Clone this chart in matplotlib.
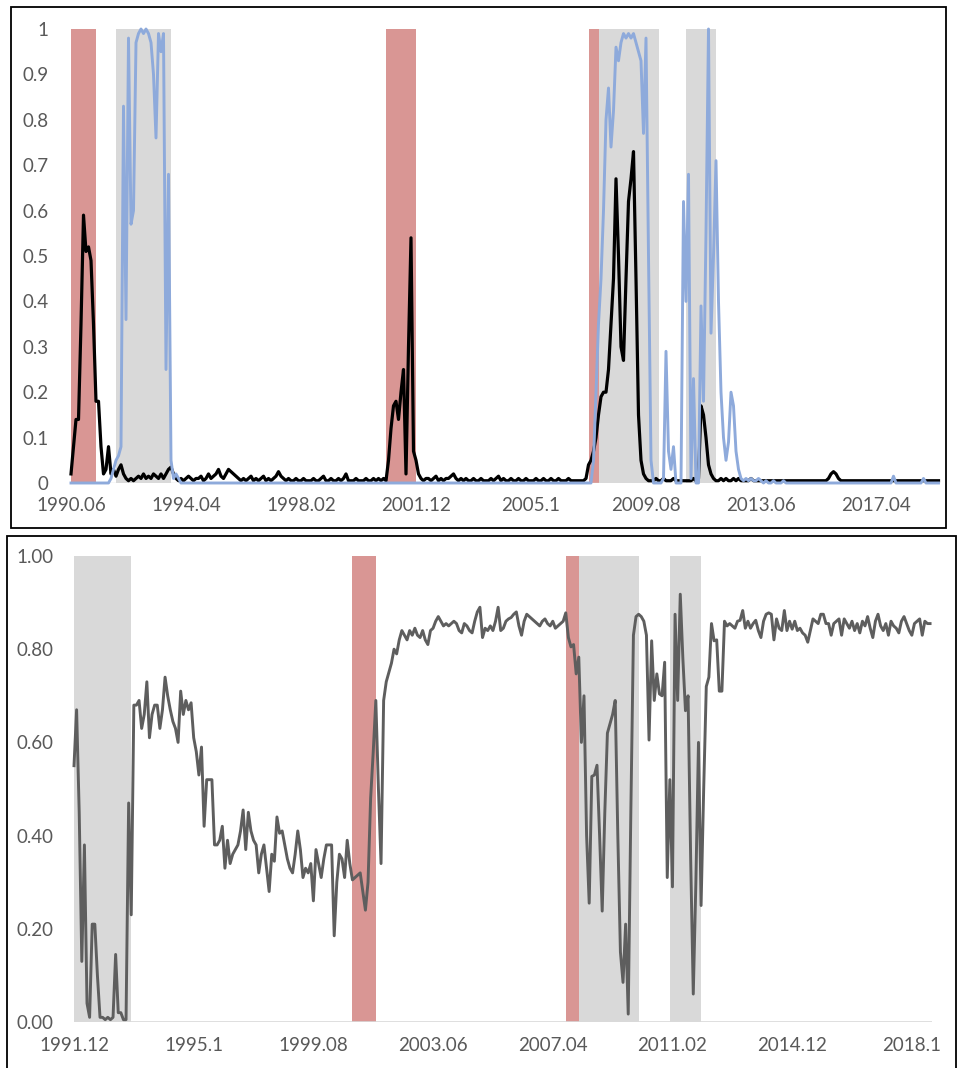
import matplotlib
matplotlib.use("Agg")
import matplotlib.pyplot as plt
from matplotlib.patches import Rectangle
import numpy as np

# ---------------- data ----------------
top_start = (1990, 6)
top_xticklabels = ["1990.06", "1994.04", "1998.02", "2001.12", "2005.1", "2009.08", "2013.06", "2017.04"]
top_yticklabels = ["0", "0.1", "0.2", "0.3", "0.4", "0.5", "0.6", "0.7", "0.8", "0.9", "1"]

top_black = [
    0.02, 0.08, 0.14, 0.14, 0.35, 0.59, 0.51, 0.52, 0.49, 0.35, 0.18, 0.18,
    0.08, 0.02, 0.03, 0.08, 0.02, 0.03, 0.015, 0.03, 0.04, 0.02, 0.01, 0.005,
    0.01, 0.005, 0.01, 0.015, 0.01, 0.02, 0.01, 0.015, 0.01, 0.02, 0.015, 0.01,
    0.02, 0.01, 0.02, 0.03, 0.035, 0.02, 0.01, 0.005, 0.01, 0.005, 0.01, 0.015,
    0.01, 0.005, 0.01, 0.01, 0.015, 0.005, 0.01, 0.02, 0.01, 0.015, 0.02, 0.03,
    0.015, 0.01, 0.02, 0.03, 0.025, 0.02, 0.015, 0.01, 0.005, 0.01, 0.005, 0.01,
    0.015, 0.005, 0.01, 0.005, 0.01, 0.015, 0.005, 0.01, 0.005, 0.01, 0.015, 0.025,
    0.015, 0.01, 0.005, 0.01, 0.005, 0.005, 0.01, 0.005, 0.005, 0.01, 0.005, 0.005,
    0.005, 0.01, 0.005, 0.005, 0.01, 0.015, 0.005, 0.005, 0.01, 0.005, 0.005, 0.01,
    0.005, 0.01, 0.02, 0.005, 0.005, 0.005, 0.01, 0.005, 0.005, 0.005, 0.01, 0.005,
    0.005, 0.01, 0.005, 0.01, 0.005, 0.01, 0.005, 0.05, 0.12, 0.17, 0.18, 0.14,
    0.2, 0.25, 0.02, 0.3, 0.54, 0.07, 0.05, 0.02, 0.01, 0.005, 0.01, 0.01,
    0.005, 0.01, 0.015, 0.005, 0.01, 0.005, 0.01, 0.01, 0.015, 0.02, 0.01, 0.005,
    0.01, 0.005, 0.01, 0.005, 0.005, 0.01, 0.005, 0.005, 0.01, 0.005, 0.005, 0.005,
    0.01, 0.005, 0.01, 0.015, 0.005, 0.01, 0.005, 0.005, 0.01, 0.005, 0.005, 0.01,
    0.005, 0.005, 0.01, 0.005, 0.005, 0.005, 0.01, 0.005, 0.005, 0.01, 0.005, 0.005,
    0.01, 0.005, 0.005, 0.01, 0.005, 0.005, 0.005, 0.01, 0.005, 0.005, 0.005, 0.005,
    0.005, 0.005, 0.01, 0.04, 0.05, 0.07, 0.1, 0.15, 0.19, 0.2, 0.2, 0.25,
    0.35, 0.45, 0.67, 0.5, 0.3, 0.27, 0.45, 0.62, 0.67, 0.73, 0.45, 0.15,
    0.05, 0.02, 0.01, 0.005, 0.005, 0.005, 0.01, 0.005, 0.005, 0.01, 0.005, 0.005,
    0.005, 0.01, 0.005, 0.005, 0.005, 0.005, 0.005, 0.005, 0.005, 0.01, 0.005, 0.01,
    0.17, 0.15, 0.1, 0.04, 0.02, 0.01, 0.005, 0.005, 0.01, 0.005, 0.01, 0.005,
    0.005, 0.01, 0.005, 0.01, 0.005, 0.005, 0.005, 0.005, 0.01, 0.005, 0.005, 0.005,
    0.005, 0.005, 0.005, 0.005, 0.005, 0.005, 0.005, 0.005, 0.005, 0.005, 0.005, 0.005,
    0.005, 0.005, 0.005, 0.005, 0.005, 0.005, 0.005, 0.005, 0.005, 0.005, 0.005, 0.005,
    0.005, 0.005, 0.005, 0.01, 0.02, 0.025, 0.02, 0.01, 0.005, 0.005, 0.005, 0.005,
    0.005, 0.005, 0.005, 0.005, 0.005, 0.005, 0.005, 0.005, 0.005, 0.005, 0.005, 0.005,
    0.005, 0.005, 0.005, 0.005, 0.005, 0.005, 0.005, 0.005, 0.005, 0.005, 0.005, 0.005,
    0.005, 0.005, 0.005, 0.005, 0.005, 0.005, 0.005, 0.005, 0.005, 0.005, 0.005, 0.005,
]

top_blue = [
    0, 0, 0, 0, 0, 0, 0, 0, 0, 0, 0, 0,
    0, 0, 0, 0, 0.01, 0.03, 0.05, 0.06, 0.08, 0.83, 0.36, 0.98,
    0.57, 0.6, 0.97, 0.99, 1.0, 0.99, 1.0, 0.99, 0.97, 0.9, 0.76, 0.99,
    0.95, 0.99, 0.25, 0.68, 0.05, 0.01, 0.02, 0.01, 0, 0, 0, 0,
    0, 0, 0, 0, 0, 0, 0, 0, 0, 0, 0, 0,
    0, 0, 0, 0, 0, 0, 0, 0, 0, 0, 0, 0,
    0, 0, 0, 0, 0, 0, 0, 0, 0, 0, 0, 0,
    0, 0, 0, 0, 0, 0, 0, 0, 0, 0, 0, 0,
    0, 0, 0, 0, 0, 0, 0, 0, 0, 0, 0, 0,
    0, 0, 0, 0, 0, 0, 0, 0, 0, 0, 0, 0,
    0, 0, 0, 0, 0, 0, 0, 0, 0, 0, 0, 0,
    0, 0, 0, 0, 0, 0, 0, 0, 0, 0, 0, 0,
    0, 0, 0, 0, 0, 0, 0, 0, 0, 0, 0, 0,
    0, 0, 0, 0, 0, 0, 0, 0, 0, 0, 0, 0,
    0, 0, 0, 0, 0, 0, 0, 0, 0, 0, 0, 0,
    0, 0, 0, 0, 0, 0, 0, 0, 0, 0, 0, 0,
    0, 0, 0, 0, 0, 0, 0, 0, 0, 0, 0, 0,
    0, 0, 0, 0, 0, 0.05, 0.2, 0.35, 0.45, 0.6, 0.8, 0.87,
    0.74, 0.82, 0.96, 0.93, 0.97, 0.99, 0.98, 0.99, 0.98, 0.99, 0.97, 0.95,
    0.93, 0.77, 0.98, 0.5, 0.05, 0, 0, 0, 0, 0.01, 0.29, 0.07,
    0.03, 0.08, 0, 0, 0, 0.62, 0.4, 0.68, 0.01, 0.23, 0, 0,
    0.39, 0.18, 0.55, 1.0, 0.33, 0.5, 0.71, 0.4, 0.2, 0.1, 0.05, 0.09,
    0.2, 0.17, 0.07, 0.03, 0.01, 0.005, 0.01, 0.005, 0.01, 0.005, 0.005, 0.01,
    0.005, 0, 0.005, 0, 0, 0.005, 0, 0, 0, 0.005, 0, 0,
    0, 0, 0, 0, 0, 0, 0, 0, 0, 0, 0, 0,
    0, 0, 0, 0, 0, 0, 0, 0, 0, 0, 0, 0,
    0, 0, 0, 0, 0, 0, 0, 0, 0, 0, 0, 0,
    0, 0, 0, 0, 0, 0.015, 0, 0, 0, 0, 0, 0,
    0, 0, 0, 0, 0, 0.01, 0, 0, 0, 0, 0, 0,
]

top_red_periods = [("1990.06", "1991.04"), ("2000.12", "2001.12"), ("2007.09", "2008.01")]
top_gray_periods = [("1991.12", "1993.10"), ("2008.01", "2010.01"), ("2010.12", "2011.12")]

bot_start = (1991, 12)
bot_xticklabels = ["1991.12", "1995.1", "1999.08", "2003.06", "2007.04", "2011.02", "2014.12", "2018.1"]
bot_yticklabels = ["0.00", "0.20", "0.40", "0.60", "0.80", "1.00"]

bot_gray = [
    0.55, 0.67, 0.45, 0.13, 0.38, 0.04, 0.01, 0.21, 0.21, 0.1, 0.01, 0.01,
    0.005, 0.01, 0.005, 0.01, 0.145, 0.02, 0.02, 0.005, 0.005, 0.47, 0.23, 0.68,
    0.68, 0.69, 0.63, 0.66, 0.73, 0.61, 0.66, 0.68, 0.68, 0.63, 0.67, 0.74,
    0.7, 0.67, 0.645, 0.63, 0.6, 0.71, 0.66, 0.69, 0.67, 0.685, 0.61, 0.58,
    0.53, 0.59, 0.42, 0.52, 0.52, 0.52, 0.38, 0.38, 0.39, 0.42, 0.33, 0.39,
    0.34, 0.36, 0.37, 0.38, 0.41, 0.455, 0.37, 0.45, 0.41, 0.39, 0.38, 0.32,
    0.36, 0.38, 0.33, 0.28, 0.36, 0.345, 0.44, 0.405, 0.41, 0.38, 0.35, 0.33,
    0.32, 0.36, 0.41, 0.37, 0.31, 0.33, 0.32, 0.34, 0.26, 0.37, 0.34, 0.31,
    0.35, 0.38, 0.38, 0.38, 0.185, 0.3, 0.36, 0.35, 0.31, 0.39, 0.34, 0.305,
    0.31, 0.315, 0.32, 0.28, 0.24, 0.3, 0.48, 0.58, 0.69, 0.5, 0.34, 0.69,
    0.73, 0.75, 0.77, 0.8, 0.79, 0.82, 0.84, 0.83, 0.82, 0.84, 0.83, 0.845,
    0.83, 0.825, 0.84, 0.82, 0.81, 0.84, 0.845, 0.86, 0.87, 0.86, 0.85, 0.855,
    0.85, 0.855, 0.86, 0.855, 0.84, 0.835, 0.855, 0.85, 0.84, 0.835, 0.86, 0.88,
    0.89, 0.825, 0.845, 0.84, 0.85, 0.84, 0.86, 0.89, 0.84, 0.845, 0.86, 0.865,
    0.868, 0.875, 0.88, 0.85, 0.83, 0.86, 0.875, 0.87, 0.865, 0.86, 0.855, 0.85,
    0.86, 0.865, 0.855, 0.85, 0.86, 0.845, 0.85, 0.855, 0.86, 0.878, 0.825, 0.805,
    0.81, 0.747, 0.783, 0.6, 0.7, 0.4, 0.255, 0.527, 0.53, 0.551, 0.4, 0.238,
    0.45, 0.62, 0.64, 0.66, 0.69, 0.4, 0.15, 0.085, 0.21, 0.017, 0.45, 0.83,
    0.87, 0.875, 0.87, 0.86, 0.83, 0.605, 0.818, 0.69, 0.747, 0.704, 0.7, 0.772,
    0.31, 0.52, 0.29, 0.875, 0.69, 0.918, 0.78, 0.668, 0.7, 0.35, 0.06, 0.3,
    0.6, 0.25, 0.5, 0.72, 0.74, 0.855, 0.818, 0.82, 0.71, 0.71, 0.86, 0.85,
    0.855, 0.85, 0.845, 0.86, 0.862, 0.883, 0.845, 0.86, 0.845, 0.855, 0.862, 0.84,
    0.825, 0.86, 0.875, 0.878, 0.875, 0.82, 0.865, 0.845, 0.84, 0.883, 0.84, 0.86,
    0.843, 0.86, 0.84, 0.845, 0.835, 0.83, 0.815, 0.84, 0.865, 0.86, 0.855, 0.875,
    0.875, 0.855, 0.855, 0.83, 0.855, 0.86, 0.865, 0.83, 0.865, 0.855, 0.845, 0.86,
    0.84, 0.855, 0.835, 0.86, 0.85, 0.87, 0.845, 0.825, 0.86, 0.875, 0.85, 0.84,
    0.855, 0.83, 0.86, 0.85, 0.845, 0.835, 0.86, 0.87, 0.855, 0.84, 0.83, 0.855,
    0.86, 0.865, 0.83, 0.86, 0.855, 0.855,
]

bot_red_periods = [("2000.11", "2001.08"), ("2007.09", "2008.02")]
bot_gray_periods = [("1991.12", "1993.10"), ("2008.02", "2010.01"), ("2011.01", "2012.01")]

# ---------------- style ----------------
RED = "#D99694"
GRAYBAND = "#D9D9D9"
BLUE = "#8EAADB"
LINEGRAY = "#5E5E5E"
TXT = "#595959"
FONT = ["Lato", "DejaVu Sans"]
plt.rcParams["font.family"] = FONT

W, H = 957, 1068
fig = plt.figure(figsize=(W / 100, H / 100), dpi=100)
fig.patch.set_facecolor("white")


def px_axes(l, t, r, b):
    return fig.add_axes([l / W, 1 - b / H, (r - l) / W, (b - t) / H])


def month_index(label, start):
    y, m = label.split(".")
    return (int(y) - start[0]) * 12 + (int(m) - start[1])


def style(ax, xticks, xlabels, yticks, ylabels, ypad, xpad):
    for s in ax.spines.values():
        s.set_visible(False)
    ax.set_xticks(xticks)
    ax.set_xticklabels(xlabels)
    ax.set_yticks(yticks)
    ax.set_yticklabels(ylabels)
    ax.tick_params(axis="both", length=0, labelsize=13.5, labelcolor=TXT)
    ax.tick_params(axis="y", pad=ypad)
    ax.tick_params(axis="x", pad=xpad)
    ax.set_facecolor("none")


# ---------------- top panel ----------------
ax1 = px_axes(62, 29, 944, 483)
n1 = len(top_black)
x1 = np.arange(n1)
ax1.set_xlim((62 - 71) / 2.5, (944 - 71) / 2.5)
ax1.set_ylim(0, 1)
for a, b in top_red_periods:
    ax1.axvspan(month_index(a, top_start), month_index(b, top_start), color=RED, lw=0, zorder=1)
for a, b in top_gray_periods:
    ax1.axvspan(month_index(a, top_start), month_index(b, top_start), color=GRAYBAND, lw=0, zorder=1)
ax1.hlines(0, 0, n1 - 1, color=GRAYBAND, lw=1, zorder=2)
ax1.plot(x1, top_black, color="black", lw=2.3, zorder=3, clip_on=False, solid_joinstyle="round")
ax1.plot(x1, top_blue, color=BLUE, lw=2.1, zorder=4, clip_on=False, solid_joinstyle="round")
style(ax1, np.arange(0, n1, 46)[:len(top_xticklabels)], top_xticklabels,
      np.linspace(0, 1, len(top_yticklabels)), top_yticklabels, 9.5, 10)

# ---------------- bottom panel ----------------
ax2 = px_axes(62, 556, 935, 1022)
n2 = len(bot_gray)
x2 = np.arange(n2)
ax2.set_xlim((62 - 74) / 2.602, (935 - 74) / 2.602)
ax2.set_ylim(0, 1)
for a, b in bot_gray_periods:
    ax2.axvspan(month_index(a, bot_start), month_index(b, bot_start), color=GRAYBAND, lw=0, zorder=1)
for a, b in bot_red_periods:
    ax2.axvspan(month_index(a, bot_start), month_index(b, bot_start), color=RED, lw=0, zorder=1)
ax2.hlines(0, 0, n2 - 0.3, color=GRAYBAND, lw=1.2, zorder=2)
ax2.plot(x2, bot_gray, color=LINEGRAY, lw=2.1, zorder=3, clip_on=False, solid_joinstyle="round")
style(ax2, np.arange(0, n2, 46)[:len(bot_xticklabels)], bot_xticklabels,
      np.linspace(0, 1, len(bot_yticklabels)), bot_yticklabels, 6, 10.5)

# ---------------- panel frames ----------------
fig.add_artist(Rectangle((11 / W, 1 - 528 / H), (946 - 11) / W, (528 - 7) / H,
                         transform=fig.transFigure, fill=False, ec="black", lw=1.3))
fig.add_artist(Rectangle((6.5 / W, 1 - 1080 / H), (956 - 6.5) / W, (1080 - 536) / H,
                         transform=fig.transFigure, fill=False, ec="black", lw=1.3))

fig.savefig("out.png", dpi=100, facecolor="white")
